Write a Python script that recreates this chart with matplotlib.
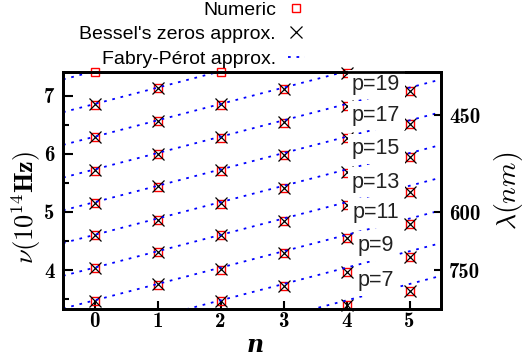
import os
import numpy as np
import matplotlib
matplotlib.use("Agg")
import matplotlib.pyplot as plt
from matplotlib.font_manager import FontProperties
from matplotlib.ticker import FixedLocator, MultipleLocator, FixedFormatter, NullLocator

plt.rcParams['mathtext.fontset'] = 'cm'
plt.rcParams['font.family'] = ['Liberation Sans', 'DejaVu Sans']

# ---- data ----
mode_n = [0, 1, 2, 3, 4, 5]

# Numeric eigenfrequencies (10^14 Hz), one list per azimuthal number n
numeric_n0 = [7.41, 6.85, 6.29, 5.71, 5.15, 4.60, 4.03, 3.47]
numeric_n1 = [7.13, 6.57, 6.00, 5.43, 4.86, 4.31, 3.75]
numeric_n2 = [7.41, 6.85, 6.28, 5.71, 5.14, 4.60, 4.01, 3.47]
numeric_n3 = [7.11, 6.54, 5.98, 5.41, 4.85, 4.29, 3.73]
numeric_n4 = [7.40, 6.82, 6.27, 5.67, 5.12, 4.55, 3.97, 3.40]
numeric_n5 = [7.08, 6.51, 5.94, 5.35, 4.80, 4.22, 3.64]

# Bessel's zeros approximation
bessel_n0 = [6.86, 6.29, 5.72, 5.15, 4.60, 4.03, 3.47]
bessel_n1 = [7.13, 6.57, 6.00, 5.44, 4.87, 4.31, 3.76]
bessel_n2 = [6.86, 6.29, 5.72, 5.15, 4.60, 4.02, 3.47]
bessel_n3 = [7.11, 6.55, 5.98, 5.42, 4.85, 4.29, 3.73]
bessel_n4 = [7.40, 6.82, 6.27, 5.68, 5.12, 4.55, 3.97, 3.40]
bessel_n5 = [7.09, 6.51, 5.94, 5.35, 4.80, 4.22, 3.64]

numeric = [numeric_n0, numeric_n1, numeric_n2, numeric_n3, numeric_n4, numeric_n5]
bessel = [bessel_n0, bessel_n1, bessel_n2, bessel_n3, bessel_n4, bessel_n5]

# Fabry-Perot approximation lines: frequency at the ends of the n range
fp_p = [5, 7, 9, 11, 13, 15, 17, 19, 21, 23, 25]
fp_n_ends = [-0.5, 5.5]
fp_start = [1.648, 2.211, 2.774, 3.338, 3.901, 4.465, 5.028, 5.592, 6.155, 6.718, 7.282]
fp_end = [3.338, 3.901, 4.465, 5.028, 5.592, 6.155, 6.718, 7.282, 7.845, 8.408, 8.972]

# labels of the lines
label_p = [19, 17, 15, 13, 11, 9, 7]
label_nu = [7.10, 6.565, 5.99, 5.42, 4.89, 4.32, 3.72]

# right axis: wavelength (nm)
wavelengths = [450, 600, 750]
c_light = 2997.92458  # nm * 10^14 Hz

xticks = [0, 1, 2, 3, 4, 5]
yticks = [4, 5, 6, 7]

# bold Computer Modern for tick labels
cmb_path = os.path.join(matplotlib.get_data_path(), 'fonts', 'ttf', 'cmb10.ttf')
if os.path.exists(cmb_path):
    tick_fp = FontProperties(fname=cmb_path, size=15)
else:
    tick_fp = FontProperties(family='DejaVu Serif', weight='bold', size=14)

# ---- figure ----
fig = plt.figure(figsize=(5.25, 3.6), dpi=100)
ax = fig.add_axes([63/525, 1-309/360, (441-63)/525, (309-72)/360])
ax.set_xlim(-0.5, 5.5)
ax.set_ylim(3.33, 7.41)

for i, n in enumerate(mode_n):
    ax.plot([n]*len(numeric[i]), numeric[i], linestyle='none', marker='s',
            markersize=5.2, markerfacecolor='none', markeredgecolor='#ff0000',
            markeredgewidth=1.0, clip_on=False, zorder=3,
            label='Numeric' if i == 0 else None)
for i, n in enumerate(mode_n):
    ax.plot([n]*len(bessel[i]), bessel[i], linestyle='none', marker='x',
            markersize=8, color='black', markeredgewidth=0.9, clip_on=False,
            zorder=4, label="Bessel's zeros approx." if i == 0 else None)
for j, p in enumerate(fp_p):
    ax.plot(fp_n_ends, [fp_start[j], fp_end[j]], color='#0000ff', lw=1.3,
            linestyle=(0, (1.5, 3.2)), zorder=5,
            label='Fabry-Pérot approx.' if j == 0 else None)

for p, nu in zip(label_p, label_nu):
    ax.text(4.47, nu, f'p={p}', ha='center', va='baseline', fontsize=15.5,
            color='#222222', zorder=6,
            bbox=dict(boxstyle='square,pad=0.2', fc='white', ec='none'))

ax.xaxis.set_major_locator(FixedLocator(xticks))
ax.yaxis.set_major_locator(FixedLocator(yticks))
ax.yaxis.set_minor_locator(MultipleLocator(0.5))
ax.xaxis.set_major_formatter(FixedFormatter([str(v) for v in xticks]))
ax.yaxis.set_major_formatter(FixedFormatter([str(v) for v in yticks]))
ax.tick_params(axis='both', which='both', direction='in', top=False, right=False,
               width=1.5, color='black')
ax.tick_params(axis='y', which='major', length=7, pad=6)
ax.tick_params(axis='y', which='minor', length=4)
ax.tick_params(axis='x', which='major', length=6, pad=2)
for s in ax.spines.values():
    s.set_linewidth(2)

ax2 = ax.twinx()
ax2.set_ylim(ax.get_ylim())
ax2.yaxis.set_major_locator(FixedLocator([c_light / w for w in wavelengths]))
ax2.yaxis.set_major_formatter(FixedFormatter([str(w) for w in wavelengths]))
ax2.yaxis.set_minor_locator(NullLocator())
ax2.tick_params(axis='y', direction='in', length=5, width=1.5, pad=6)
for s in ax2.spines.values():
    s.set_linewidth(2)

fig.canvas.draw()
for lab in ax.get_xticklabels() + ax.get_yticklabels() + ax2.get_yticklabels():
    lab.set_fontproperties(tick_fp)

ax.set_ylabel(r'$\nu(\mathbf{10^{14}Hz})$', fontsize=19)
ax.yaxis.set_label_coords(-0.052, 0.43)
ax2.set_ylabel(r'$\lambda(nm)$', fontsize=20)
ax2.yaxis.set_label_coords(1.135, 0.50)
ax.set_xlabel('n', fontsize=17, family='DejaVu Serif', style='italic',
              fontweight='bold')
ax.xaxis.set_label_coords(0.508, -0.10)

leg = ax.legend(loc='upper right', bbox_to_anchor=(305/525, 1.0 - 1/360),
                bbox_transform=fig.transFigure, frameon=False, markerfirst=False,
                fontsize=14, handlelength=0.9, handletextpad=0.6,
                labelspacing=0.36, borderpad=0, borderaxespad=0.0)
for col in leg._legend_box.get_children()[1].get_children():
    col.align = 'right'

fig.savefig('out.png', dpi=100)
